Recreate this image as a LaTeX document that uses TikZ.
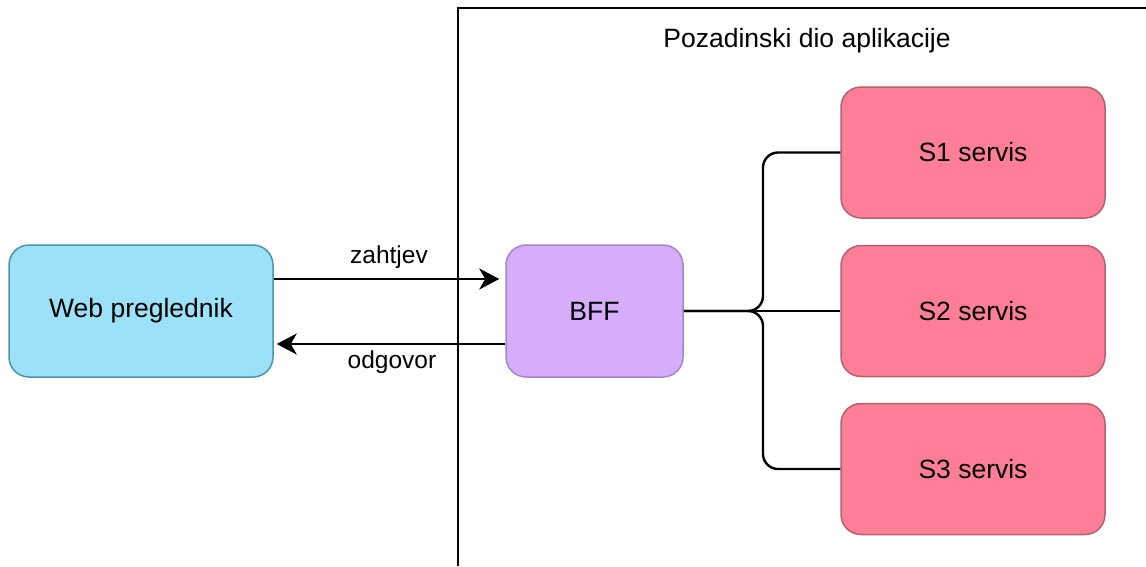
\documentclass[tikz,border=0pt]{standalone}
\usepackage{fontspec}
\setmainfont{Liberation Sans}
\usetikzlibrary{arrows.meta}
\definecolor{webfill}{HTML}{9BE1F7}
\definecolor{webdraw}{HTML}{4E93AC}
\definecolor{bfffill}{HTML}{D5ADFA}
\definecolor{bffdraw}{HTML}{A586C8}
\definecolor{svcfill}{HTML}{FF7E97}
\definecolor{svcdraw}{HTML}{B6606F}
\tikzset{
  box/.style={rectangle, rounded corners=20pt, line width=1.5pt, inner sep=0pt,
    minimum height=132pt, font=\fontsize{26.5}{30}\selectfont},
  webbox/.style={box, fill=webfill, draw=webdraw, minimum width=264pt},
  bffbox/.style={box, fill=bfffill, draw=bffdraw, minimum width=177pt},
  svcbox/.style={box, fill=svcfill, draw=svcdraw, minimum width=264pt, minimum height=131pt},
  conn/.style={line width=2.4pt, black},
  arr/.style={conn, -{Stealth[length=20pt, width=21pt, inset=6pt]}},
  lbl/.style={font=\fontsize{24.5}{30}\selectfont, inner sep=0pt},
}
\begin{document}
\begin{tikzpicture}[x=1pt, y=-1pt]
\useasboundingbox (0,0) rectangle (1146,566);
% container
\draw[line width=1.8pt] (458,566) -- (458,8) -- (1146,8);
\node[lbl, font=\fontsize{26.5}{30}\selectfont] (title) at (807,41) {Pozadinski dio aplikacije};
% nodes
\node[webbox] (web) at (141,311) {Web preglednik};
\node[bffbox] (bff) at (594.5,311) {BFF};
\node[svcbox] (s1) at (973,152.5) {S1 servis};
\node[svcbox] (s2) at (973,311) {S2 servis};
\node[svcbox] (s3) at (973,469) {S3 servis};
% request / response
\coordinate (reqy) at (0,279);
\coordinate (resy) at (0,344);
\draw[arr] (web.east |- reqy) -- ([xshift=-6pt]bff.west |- reqy);
\draw[arr] (bff.west |- resy) -- ([xshift=3pt]web.east |- resy);
\node[lbl] (zahtjev) at (389,257) {zahtjev};
\node[lbl] (odgovor) at (392,362) {odgovor};
% junction
\coordinate (j) at (763,311);
\draw[conn, rounded corners=15pt] (bff.east) -- (j) |- (s1.west);
\draw[conn, rounded corners=15pt] (bff.east) -- (j) |- (s3.west);
\draw[conn] (bff.east) -- (s2.west);
\end{tikzpicture}
\end{document}
